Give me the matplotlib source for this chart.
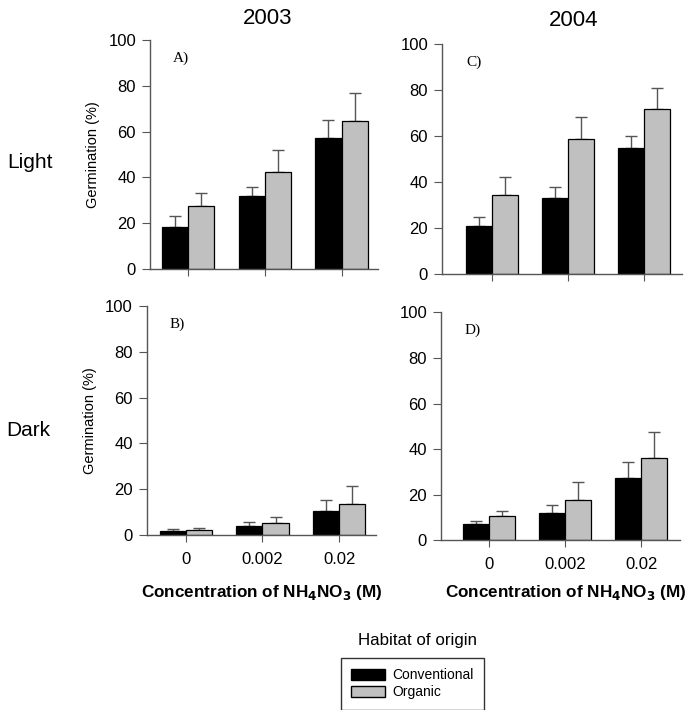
import numpy as np
import matplotlib
matplotlib.use('Agg')
import matplotlib.pyplot as plt
from matplotlib.patches import Patch

plt.rcParams['font.family'] = ['Liberation Sans', 'DejaVu Sans']

concentrations = ['0', '0.002', '0.02']
habitats = ['Conventional', 'Organic']

# germination means and upper error-bar ends (%)
light_2003_conv = [18.5, 32.0, 57.0]
light_2003_conv_top = [23.0, 36.0, 65.0]
light_2003_org = [27.5, 42.5, 64.8]
light_2003_org_top = [33.0, 52.0, 76.8]

light_2004_conv = [21.0, 33.2, 54.6]
light_2004_conv_top = [24.7, 37.9, 60.2]
light_2004_org = [34.4, 58.9, 71.8]
light_2004_org_top = [42.2, 68.2, 80.9]

dark_2003_conv = [1.7, 3.8, 10.3]
dark_2003_conv_top = [2.5, 5.7, 15.3]
dark_2003_org = [2.2, 5.1, 13.4]
dark_2003_org_top = [3.2, 7.7, 21.4]

dark_2004_conv = [7.0, 12.1, 27.2]
dark_2004_conv_top = [8.6, 15.3, 34.5]
dark_2004_org = [10.8, 17.5, 36.0]
dark_2004_org_top = [12.9, 25.7, 47.3]

fig = plt.figure(figsize=(6.96, 7.10), dpi=100)

axis_col = '#555555'
gray = '#c0c0c0'
w = 0.34


def draw_panel(rect, conv, conv_top, org, org_top, letter, xlim, show_ylabel, show_xlabels):
    ax = fig.add_axes(rect)
    x = np.arange(len(concentrations))
    for xs, vals, tops, col in [(x - w / 2, conv, conv_top, 'black'), (x + w / 2, org, org_top, gray)]:
        vals = np.array(vals)
        tops = np.array(tops)
        ax.errorbar(xs, vals, yerr=[np.zeros_like(vals), tops - vals], fmt='none',
                    ecolor=axis_col, elinewidth=1.0, capsize=4, capthick=1.0, zorder=1)
        ax.bar(xs, vals, width=w, color=col, edgecolor='black', linewidth=0.9, zorder=2)
    ax.set_xlim(xlim)
    ax.set_ylim(0, 100)
    ax.set_yticks([0, 20, 40, 60, 80, 100])
    ax.set_xticks(x)
    if show_xlabels:
        ax.set_xticklabels(concentrations, fontsize=12)
    else:
        ax.set_xticklabels([])
    for s in ['top', 'right']:
        ax.spines[s].set_visible(False)
    for s in ['left', 'bottom']:
        ax.spines[s].set_color(axis_col)
        ax.spines[s].set_linewidth(1.0)
    ax.spines['left'].set_bounds(0, 100)
    ax.tick_params(axis='y', labelsize=12, length=6, color=axis_col, pad=4)
    ax.tick_params(axis='x', length=5, color=axis_col, pad=7)
    ax.text(0.1, 0.95, letter, transform=ax.transAxes, fontsize=11,
            family='Liberation Serif', va='top', ha='left')
    if show_ylabel:
        ax.set_ylabel('Germination (%)', fontsize=10.5, labelpad=6)
    return ax


axA = draw_panel([0.2155, 0.621, 0.328, 0.3227], light_2003_conv, light_2003_conv_top,
                 light_2003_org, light_2003_org_top, 'A)', (-0.5, 2.48), True, False)
axC = draw_panel([0.635, 0.614, 0.345, 0.324], light_2004_conv, light_2004_conv_top,
                 light_2004_org, light_2004_org_top, 'C)', (-0.66, 2.5), False, False)
axB = draw_panel([0.211, 0.2465, 0.329, 0.3225], dark_2003_conv, dark_2003_conv_top,
                 dark_2003_org, dark_2003_org_top, 'B)', (-0.51, 2.48), True, True)
axD = draw_panel([0.6336, 0.239, 0.3434, 0.3211], dark_2004_conv, dark_2004_conv_top,
                 dark_2004_org, dark_2004_org_top, 'D)', (-0.63, 2.51), False, True)

xlab = 'Concentration of NH$_\\mathbf{4}$NO$_\\mathbf{3}$ (M)'
for xc in [262, 566]:
    fig.text(xc / 696, 1 - 593 / 710, xlab, fontsize=12.3, fontweight='bold',
             ha='center', va='center')

fig.text(268 / 696, 1 - 19 / 710, '2003', fontsize=16, ha='center', va='center')
fig.text(574 / 696, 1 - 21 / 710, '2004', fontsize=16, ha='center', va='center')
fig.text(30 / 696, 1 - 163 / 710, 'Light', fontsize=15, ha='center', va='center')
fig.text(28 / 696, 1 - 430 / 710, 'Dark', fontsize=15, ha='center', va='center')
fig.text(417 / 696, 1 - 641 / 710, 'Habitat of origin', fontsize=12.2, ha='center', va='center')

handles = [Patch(facecolor='black', edgecolor='black', label=habitats[0]),
           Patch(facecolor=gray, edgecolor='black', label=habitats[1])]
leg = fig.legend(handles=handles, loc='upper left', bbox_to_anchor=(341 / 696, 1 - 658 / 710),
                 frameon=True, fancybox=False, fontsize=10, handlelength=2.4, handleheight=0.85,
                 labelspacing=0.2, borderpad=0.75, handletextpad=0.55, borderaxespad=0)
leg.get_frame().set_edgecolor('black')
leg.get_frame().set_linewidth(1.0)

fig.savefig('out.png', dpi=100)
